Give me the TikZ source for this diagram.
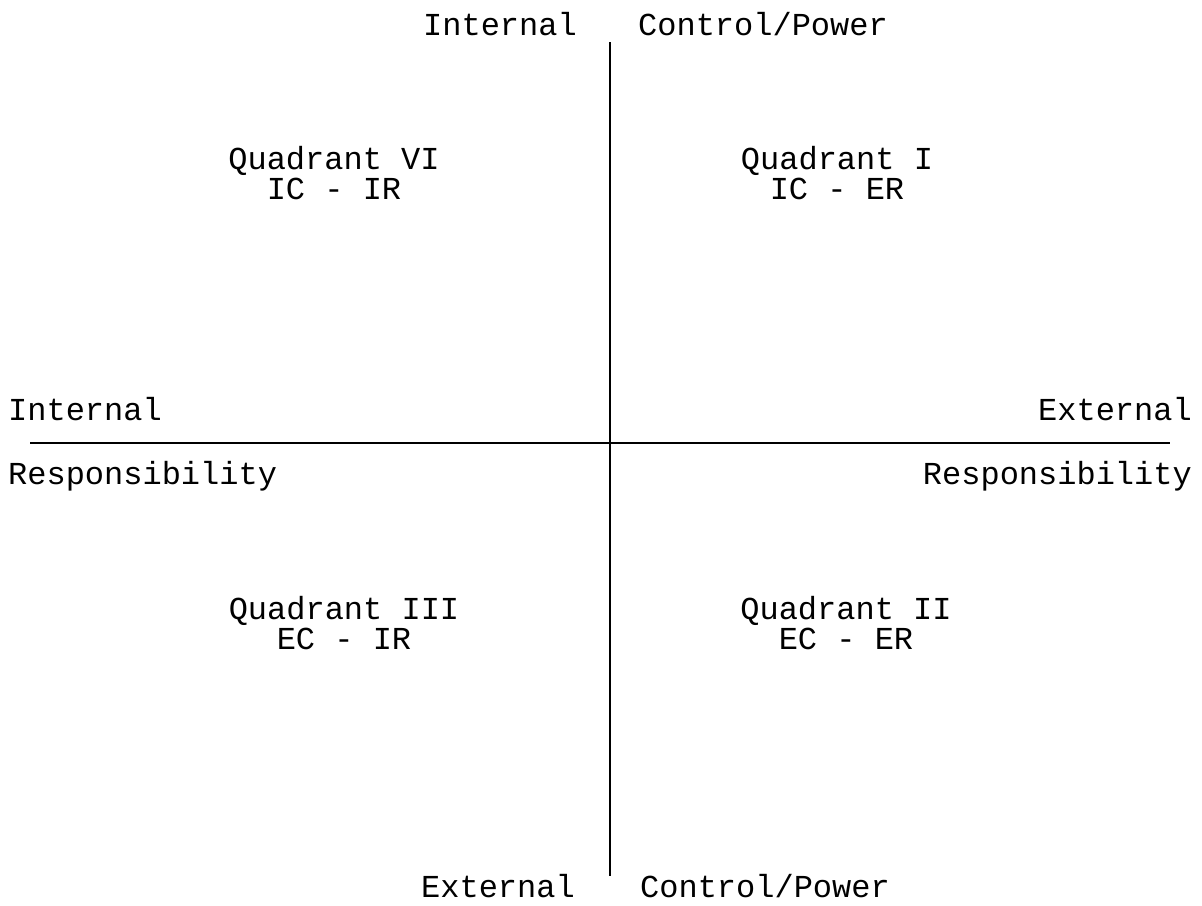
\documentclass[tikz,border=0pt]{standalone}
\usepackage{fontspec}
\setmainfont{Liberation Mono}
\usetikzlibrary{positioning}

\begin{document}
\begin{tikzpicture}[x=1pt,y=-1pt,
		lbl/.style={inner sep=0pt,font=\fontsize{32}{30}\selectfont},
		quad/.style={lbl,align=center}]
			\useasboundingbox (0,0) rectangle (1202,905);
			% axes
			\coordinate (ctop) at (610,42);
			\coordinate (cbot) at (610,876);
			\coordinate (rleft) at (30,443);
			\coordinate (rright) at (1170,443);
			\draw[line width=1.6pt] (ctop) -- (cbot);
			\draw[line width=1.6pt] (rleft) -- (rright);
			% control axis labels
			\node[lbl,anchor=base] (itop) at (500,35) {Internal};
			\node[lbl,anchor=base] (ctrltop) at (763,35) {Control/Power};
			\node[lbl,anchor=base] (ebot) at (498,897) {External};
			\node[lbl,anchor=base] (ctrlbot) at (765,897) {Control/Power};
			% responsibility axis labels
			\node[lbl,anchor=base west] (ileft) at (8,420) {Internal};
			\node[lbl,anchor=base west] (rsleft) at (8,484) {Responsibility};
			\node[lbl,anchor=base east] (eright) at (1192,420) {External};
			\node[lbl,anchor=base east] (rsright) at (1192,484) {Responsibility};
			% quadrants
			\node[quad,anchor=base] (q6) at (334,199) {Quadrant VI\\IC - IR};
			\node[quad,anchor=base] (q1) at (837,199) {Quadrant I\\IC - ER};
			\node[quad,anchor=base] (q3) at (344,649) {Quadrant III\\EC - IR};
			\node[quad,anchor=base] (q2) at (846,649) {Quadrant II\\EC - ER};
		\end{tikzpicture}
\end{document}
